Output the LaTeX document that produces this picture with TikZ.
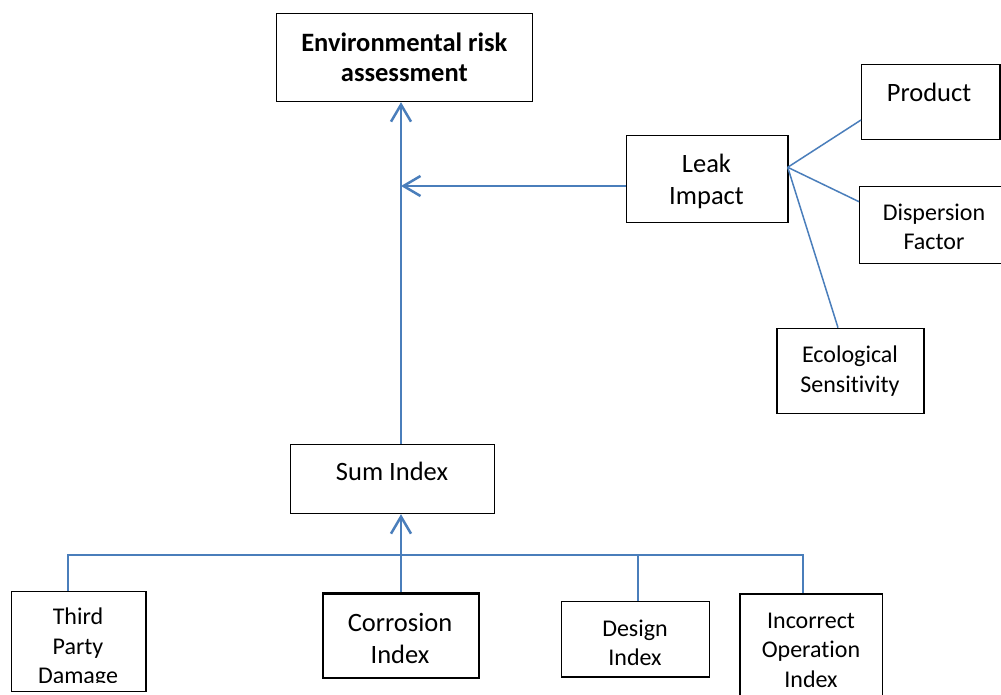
\documentclass[tikz,border=0pt]{standalone}
\usepackage{fontspec}
\setmainfont{Carlito}[Ligatures=NoCommon]
\usetikzlibrary{arrows.meta}
\definecolor{lineblue}{RGB}{74,126,187}
\tikzset{
  box/.style={draw=black, line width=1.2pt, inner sep=0pt, anchor=north west},
  big/.style={font=\fontsize{26.5}{32}\selectfont, align=center, inner sep=0pt},
  small/.style={font=\fontsize{24}{29.5}\selectfont, align=center, inner sep=0pt},
  conn/.style={draw=lineblue, line width=2pt},
  fanline/.style={draw=lineblue, line width=1.5pt},
  arr/.style={draw=lineblue, line width=2.5pt, -{Straight Barb[length=17pt,width=20pt,line width=2.5pt]}}
}
\begin{document}
\begin{tikzpicture}[x=1pt,y=-1pt]
\useasboundingbox (0,0) rectangle (1001,695);
\fill[white] (0,0) rectangle (1001,695);

% boxes
\node[box, minimum width=256pt, minimum height=88.3pt] (env) at (275.7,12.7) {};
\node[box, minimum width=161.6pt, minimum height=87.3pt] (leak) at (625.7,135) {};
\node[box, minimum width=138.3pt, minimum height=75pt] (prod) at (861,64.3) {};
\node[box, minimum width=150pt, minimum height=76.7pt] (disp) at (859,186) {};
\node[box, minimum width=147pt, minimum height=85pt] (eco) at (776.3,327.7) {};
\node[box, minimum width=204pt, minimum height=69pt] (sum) at (290,444) {};
\node[box, minimum width=134.3pt, minimum height=100pt] (third) at (11,590.7) {};
\node[box, line width=2.2pt, minimum width=156pt, minimum height=84.4pt] (corr) at (321.7,592.3) {};
\node[box, minimum width=148.3pt, minimum height=75.3pt] (design) at (560.7,601) {};
\node[box, minimum width=142.4pt, minimum height=130pt] (inc) at (739.3,593.3) {};

% texts
\node[big, font=\fontsize{26.5}{30}\selectfont\bfseries] (envT) at (env.center) {Environmental risk\\assessment};
\node[big] (leakT) at (706.5,181.5) {Leak\\Impact};
\node[big] (prodT) at (929,92) {Product};
\node[small] (dispT) at (934,227) {Dispersion\\Factor};
\node[small] (ecoT) at (850,371) {Ecological\\Sensitivity};
\node[big] (sumT) at (392,471) {Sum Index};
\begin{scope}
\clip (11,590) rectangle (146,682.5);
\node[small] (thirdT) at (78,648) {Third\\Party\\Damage};
\end{scope}
\node[big] (corrT) at (400,638) {Corrosion\\Index};
\node[small] (designT) at (635,643) {Design\\Index};
\node[small] (incT) at (811,650) {Incorrect\\Operation\\Index};

% coordinates for connectors
\coordinate (spine) at (401,0);
\coordinate (hj) at (401,186);
\coordinate (b1) at (68,554.5);
\coordinate (b3) at (637.7,554.5);
\coordinate (b4) at (802.7,554.5);
\coordinate (fan) at (787.7,167.3);
\coordinate (pe) at (861,120);
\coordinate (de) at (859,201.7);
\coordinate (ee) at (838,327.7);

% connectors
\draw[arr] (spine |- sum.north) -- (spine |- env.south);
\draw[arr] (leak.west |- hj) -- (hj);
\draw[conn] (b1 |- third.north) -- (b1) -- (b4) -- (b4 |- inc.north);
\draw[conn] (b3) -- (b3 |- design.north);
\draw[arr] (spine |- corr.north) -- (spine |- sum.south);
\draw[fanline] (fan) -- (pe);
\draw[fanline] (fan) -- (de);
\draw[fanline] (fan) -- (ee);
\end{tikzpicture}
\end{document}
